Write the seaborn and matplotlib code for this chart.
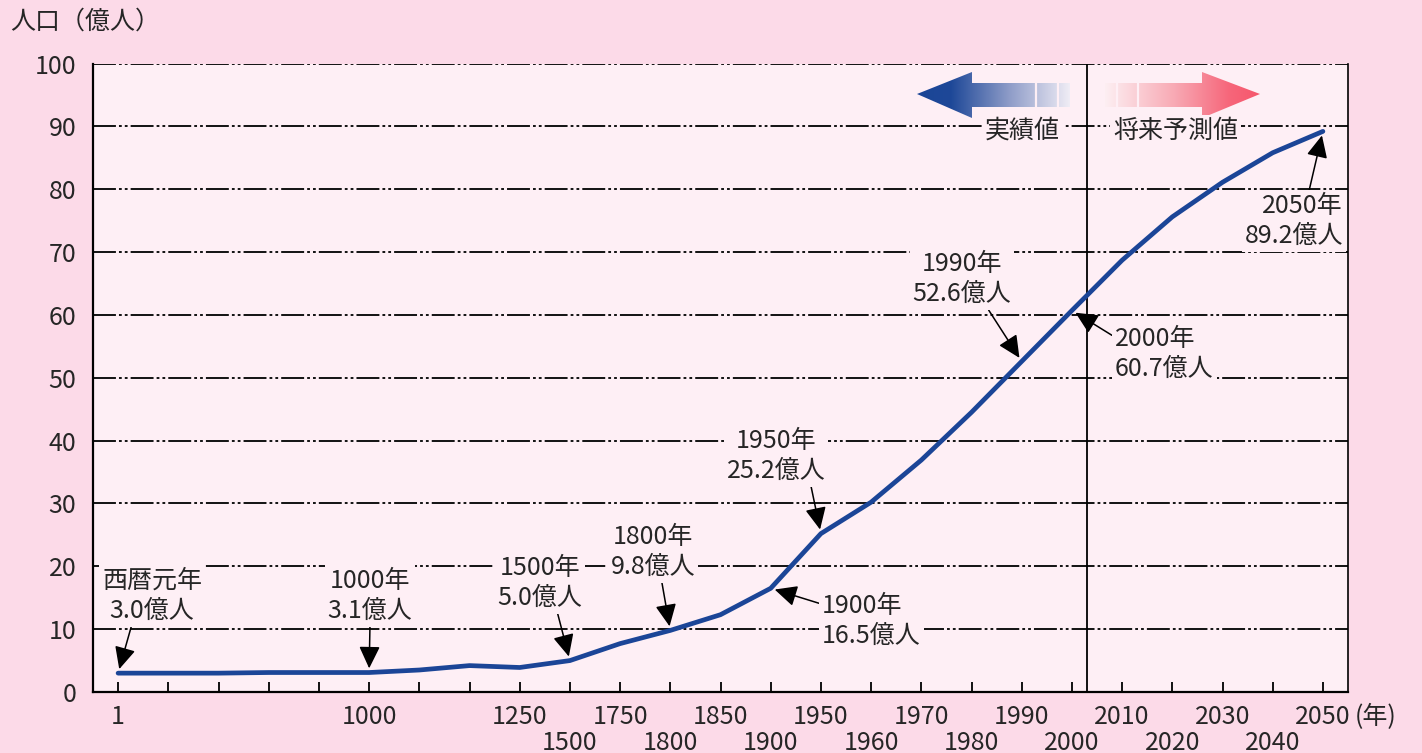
import numpy as np
import pandas as pd
import seaborn as sns
import matplotlib
matplotlib.use("Agg")
import matplotlib.pyplot as plt
from matplotlib.patches import Polygon

# ---------------- data ----------------
years = ["1", "", "", "", "", "1000", "", "", "1250", "1500", "1750", "1800",
         "1850", "1900", "1950", "1960", "1970", "1980", "1990", "2000",
         "2010", "2020", "2030", "2040", "2050"]
population = [3.0, 3.0, 3.0, 3.1, 3.1, 3.1, 3.5, 4.2, 3.9, 5.0, 7.7, 9.8,
              12.3, 16.5, 25.2, 30.2, 36.9, 44.5, 52.6, 60.7,
              68.7, 75.6, 81.1, 85.8, 89.2]
lower_row = ["1500", "1800", "1900", "1960", "1980", "2000", "2020", "2040"]
y_ticks = [0, 10, 20, 30, 40, 50, 60, 70, 80, 90, 100]
annot_years = ["西暦元年", "1000年", "1500年", "1800年", "1900年", "1950年",
               "1990年", "2000年", "2050年"]
annot_values = ["3.0億人", "3.1億人", "5.0億人", "9.8億人", "16.5億人",
                "25.2億人", "52.6億人", "60.7億人", "89.2億人"]
annot_index = [0, 5, 9, 11, 13, 14, 18, 19, 24]

FIG_BG = "#FCDAE8"
AX_BG = "#FEEFF5"
LINE = "#1B4597"
W, H = 1422, 753

sns.set_style("white")
plt.rcParams["font.family"] = ["Noto Sans CJK JP", "DejaVu Sans"]
plt.rcParams["lines.scale_dashes"] = False

fig = plt.figure(figsize=(W / 100, H / 100), dpi=100, facecolor=FIG_BG)
ax = fig.add_axes([93 / W, (H - 692) / H, (1348 - 93) / W, (692 - 63.5) / H])
ax.set_facecolor(AX_BG)

df = pd.DataFrame({"pos": np.arange(len(years)), "pop": population})
sns.lineplot(data=df, x="pos", y="pop", color=LINE, lw=3.4, ax=ax, zorder=5)

ax.set_xlim(-0.5, len(years) - 0.5)
ax.set_ylim(0, 100)
ax.set_xlabel("")
ax.set_ylabel("")

FS = 18

# y axis
ax.set_yticks(y_ticks)
ax.set_yticklabels([str(v) for v in y_ticks], fontsize=FS)
ax.tick_params(axis="y", length=0, pad=12)
ax.grid(axis="y", color="#111111", lw=1.4,
        linestyle=(0, (16.5, 2.2, 2.0, 2.2, 2.0, 2.2)))
ax.grid(axis="x", visible=False)

# x axis: two rows of labels
pos = np.arange(len(years))
major = [i for i in pos if years[i] not in lower_row]
minor = [i for i in pos if years[i] in lower_row]
ax.set_xticks(major)
ax.set_xticklabels([years[i] for i in major], fontsize=FS)
ax.set_xticks(minor, minor=True)
ax.set_xticklabels([years[i] for i in minor], minor=True, fontsize=FS)
ax.tick_params(axis="x", which="both", direction="in", length=7, width=1.3,
               color="black", bottom=True)
ax.tick_params(axis="x", which="major", pad=9)
ax.tick_params(axis="x", which="minor", pad=27)

for s in ["left", "bottom"]:
    ax.spines[s].set_color("black")
    ax.spines[s].set_linewidth(1.6)
ax.spines["right"].set_color("black")
ax.spines["right"].set_linewidth(1.2)
ax.spines["top"].set_visible(False)
for s in ax.spines.values():
    s.set_zorder(7)

# divider actual / projection
ax.axvline(19.3, color="black", lw=1.3, zorder=3)


def P(px, py):
    return ax.transData.inverted().transform((px, H - py))


# axis titles
fig.text(10 / W, 1 - 22 / H, "人口（億人）", fontsize=FS, ha="left", va="center")
fig.text(1355 / W, 1 - 717 / H, "(年)", fontsize=FS, ha="left", va="center")

# annotations
box = dict(boxstyle="square,pad=0.12", fc=AX_BG, ec="none")
layout = [
    # text px, ha, relpos
    ((152, 596), "center", (0.3, 0.0)),
    ((370, 596), "center", (0.5, 0.0)),
    ((540, 583), "center", (0.7, 0.0)),
    ((653, 552), "center", (0.6, 0.0)),
    ((822, 621), "left", (0.0, 0.8)),
    ((776, 456), "center", (0.85, 0.0)),
    ((962, 279), "center", (0.75, 0.0)),
    ((1115, 354), "left", (0.0, 0.8)),
    ((1343, 221), "right", (0.65, 1.0)),
]
for (tp, ha, rp), yl, vl, idx in zip(layout, annot_years, annot_values, annot_index):
    tx, ty = P(*tp)
    ax.annotate(f"{yl}\n{vl}", xy=(idx, population[idx]), xytext=(tx, ty),
                textcoords="data", ha=ha, va="center",
                multialignment=ha if ha != "center" else "center",
                fontsize=FS, linespacing=1.2, bbox=box, zorder=6,
                arrowprops=dict(arrowstyle="-|>,head_length=0.8,head_width=0.38",
                                color="black", lw=1.1, shrinkA=0, shrinkB=3,
                                relpos=rp, mutation_scale=17))


# gradient arrows at top
def grad_arrow(pts_px, x0, x1, stops, stripes):
    pts = np.array([P(*p) for p in pts_px])
    poly = Polygon(pts, closed=True, fc="none", ec="none", transform=ax.transData)
    ax.add_patch(poly)
    n = 256
    t = np.linspace(0, 1, n)
    pos_s = [s[0] for s in stops]
    cols = np.array([matplotlib.colors.to_rgb(s[1]) for s in stops])
    img = np.stack([np.interp(t, pos_s, cols[:, k]) for k in range(3)], axis=-1)[None, :, :]
    xa, _ = P(x0, 0)
    xb, _ = P(x1, 0)
    ylo = pts[:, 1].min()
    yhi = pts[:, 1].max()
    im = ax.imshow(img, extent=[xa, xb, ylo, yhi], aspect="auto", origin="lower",
                   zorder=4, interpolation="bilinear")
    im.set_clip_path(poly)
    for sx in stripes:
        a = P(sx, 80)
        b = P(sx, 110)
        ax.plot([a[0], b[0]], [a[1], b[1]], color=AX_BG, lw=1.6, zorder=4.5)


grad_arrow([(917, 94), (972, 72), (972, 83), (1070, 83), (1070, 107),
            (972, 107), (972, 118)], 917, 1071,
           [(0, "#1A4596"), (0.22, "#1E4898"), (0.6, "#8E9CC8"), (1, "#F1EEF6")],
           [1036, 1058])
grad_arrow([(1105, 83), (1202, 83), (1202, 72), (1260, 94), (1202, 118),
            (1202, 107), (1105, 107)], 1104, 1261,
           [(0, "#FDF0F3"), (0.45, "#F8A9B4"), (0.8, "#F6667A"), (1, "#F6566C")],
           [1117, 1138])

ax.text(*P(1060, 131), "実績値", fontsize=FS, ha="right", va="center", bbox=box, zorder=6)
ax.text(*P(1113, 131), "将来予測値", fontsize=FS, ha="left", va="center", bbox=box, zorder=6)

ax.set_xlim(-0.5, len(years) - 0.5)
ax.set_ylim(0, 100)

fig.savefig("out.png", dpi=100, facecolor=FIG_BG)
